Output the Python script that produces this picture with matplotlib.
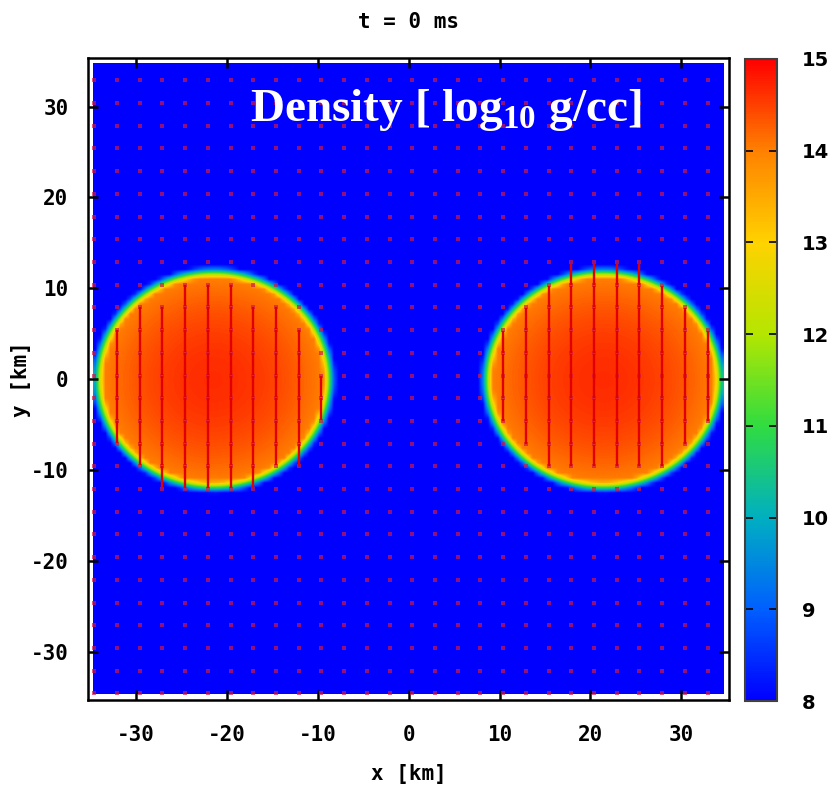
import numpy as np
import matplotlib
matplotlib.use("Agg")
import matplotlib.pyplot as plt
from matplotlib.colors import LinearSegmentedColormap

# Звёзды: центры, полуоси (км), плотность в центре и на поверхности (log10 g/cc)
star_cx = [-21.6, 21.6]
star_cy = [-0.15, -0.15]
star_ax = [12.2, 12.3]
star_by = [11.3, 11.3]
rho_center = [14.65, 14.65]
rho_surface = [14.0, 14.0]
star_vdir = [-1, 1]  # направление скорости (вниз / вверх)
rho_floor = 8.0
rim_width = 1.3  # км

# Сетка векторов скорости
vec_start = -34.6
vec_step = 2.5
vec_count = 28
vec_len = 2.4

# Цветовая шкала
cbar_ticks = [8, 9, 10, 11, 12, 13, 14, 15]
cbar_colors = ["#0000ff", "#0060ff", "#00b0c0", "#30dc40",
               "#b4e600", "#ffd200", "#ff8200", "#ff0000"]
x_ticks = [-30, -20, -10, 0, 10, 20, 30]
y_ticks = [-30, -20, -10, 0, 10, 20, 30]

cmap = LinearSegmentedColormap.from_list(
    "dens", [((v - 8) / 7, c) for v, c in zip(cbar_ticks, cbar_colors)])

# Поле плотности на грубой сетке (как в симуляции)
L = 34.7
g = np.linspace(-L, L, 127)
X, Y = np.meshgrid(g, g)
rho = np.full_like(X, rho_floor)
for cx, cy, a, b, rc, rs in zip(star_cx, star_cy, star_ax, star_by, rho_center, rho_surface):
    r = np.sqrt(((X - cx) / a) ** 2 + ((Y - cy) / b) ** 2)
    inside = rc - (rc - rs) * r ** 2
    d = (r - 1) * 0.5 * (a + b)
    outside = rs - (rs - rho_floor) * d / rim_width
    val = np.where(r <= 1, inside, outside)
    rho = np.maximum(rho, np.clip(val, rho_floor, 15))

plt.rcParams['mathtext.fontset'] = 'custom'
plt.rcParams['mathtext.rm'] = 'Liberation Serif:bold'
plt.rcParams['mathtext.bf'] = 'Liberation Serif:bold'

fig = plt.figure(figsize=(8.34, 7.85), dpi=100)
ax = fig.add_axes([0.1055, 0.108, 0.769, 0.818])
cax = fig.add_axes([0.893, 0.107, 0.0384, 0.818])

im = ax.imshow(rho, extent=[-L, L, -L, L], origin="lower",
               cmap=cmap, vmin=8, vmax=15, interpolation="bilinear")

# векторы скорости
vg = vec_start + vec_step * np.arange(vec_count)
VX, VY = np.meshgrid(vg, vg)
ax.plot(VX.ravel(), VY.ravel(), "s", color="#d01848", ms=2.3, mew=0, alpha=0.7)
for cx, cy, a, b, s in zip(star_cx, star_cy, star_ax, star_by, star_vdir):
    r = np.sqrt(((VX - cx) / a) ** 2 + ((VY - cy) / b) ** 2)
    m = r <= 1.0
    ax.vlines(VX[m], VY[m], VY[m] + s * vec_len, color="#e00000", lw=1.7)

ax.set_xlim(-35.3, 35.3)
ax.set_ylim(-35.3, 35.3)
ax.set_xticks(x_ticks)
ax.set_yticks(y_ticks)
tick_font = dict(family="DejaVu Sans Mono", weight="bold", size=15)
ax.set_xticklabels([str(t) for t in x_ticks], **tick_font)
ax.set_yticklabels([str(t) for t in y_ticks], **tick_font)
ax.tick_params(axis="x", direction="in", length=7, width=1.8, top=True, pad=18)
ax.tick_params(axis="y", direction="in", length=7, width=1.8, right=True, pad=14)
for sp in ax.spines.values():
    sp.set_linewidth(1.8)
ax.set_xlabel("x [km]", labelpad=14, **tick_font)
ax.set_ylabel("y [km]", labelpad=0, **tick_font)
ax.set_title("t = 0 ms", pad=22, **tick_font)

ax.text(0.558, 0.92, r"Density [ log$_{\mathrm{10}}$ g/cc]", transform=ax.transAxes,
        ha="center", va="center", color="white", fontsize=34,
        family="Liberation Serif", weight="bold")

cb = fig.colorbar(im, cax=cax, ticks=cbar_ticks)
cb.outline.set_linewidth(1.5)
cb.outline.set_edgecolor("#404040")
cax.tick_params(direction="in", length=6, width=1.2, left=True, right=True, pad=18)
cax.set_yticklabels([str(t) for t in cbar_ticks], family="DejaVu Sans", weight="bold", size=14)

fig.savefig("out.png", dpi=100)
